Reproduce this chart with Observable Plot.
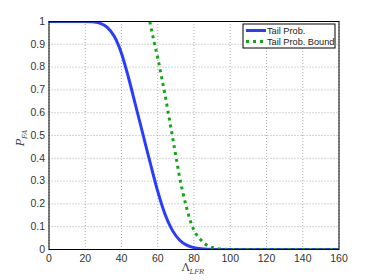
<!DOCTYPE html>
<html><head><meta charset="utf-8">
<script src="https://cdn.jsdelivr.net/npm/d3@7"></script>
<script src="https://cdn.jsdelivr.net/npm/@observablehq/plot@0.6"></script>
<style>
body{margin:0;background:#fff;}
#chart{position:relative;width:374px;height:280px;}
</style></head>
<body><div id="chart"></div>
<script>
const xTicks = [0,20,40,60,80,100,120,140,160];
const yTicks = [0,0.1,0.2,0.3,0.4,0.5,0.6,0.7,0.8,0.9,1];
const tailX = [0,20,24,28,32,36,40,44,48,52,56,60,64,68,72,76,80,84,88,92,100,160];
const tailY = [1,1,0.999,0.993,0.975,0.935,0.86,0.75,0.625,0.5,0.375,0.255,0.155,0.085,0.042,0.019,0.008,0.003,0.001,0,0,0];
const boundX = [55.6,58,60,62,64,66,68,70,72,74,76,78,80,84,88,92,96,100,160];
const boundY = [1,0.91,0.84,0.76,0.68,0.59,0.5,0.41,0.32,0.245,0.18,0.125,0.085,0.04,0.015,0.005,0.001,0,0];
const seriesNames = ["Tail Prob.","Tail Prob. Bound"];
const colors = ["#2a3cff","#13a813"];

const tail = tailX.map((x,i)=>({x, y: tailY[i]}));
const bound = boundX.map((x,i)=>({x, y: boundY[i]}));

const fmt = d => String(+d.toFixed(1));
const plot = Plot.plot({
  width: 374, height: 280,
  marginLeft: 48.5, marginRight: 35.5, marginTop: 21, marginBottom: 31,
  style: {fontFamily: "Liberation Sans, Arial, sans-serif", fontSize: "10.5px", color: "#333", background: "#fff"},
  x: {domain: [0,160]},
  y: {domain: [0,1]},
  marks: [
    Plot.gridX(xTicks, {stroke: "#999", strokeOpacity: 0.8, strokeDasharray: "1,2"}),
    Plot.gridY(yTicks, {stroke: "#999", strokeOpacity: 0.8, strokeDasharray: "1,2"}),
    Plot.line(tail, {x: "x", y: "y", stroke: colors[0], strokeWidth: 3, curve: "monotone-x", clip: true}),
    Plot.line(bound, {x: "x", y: "y", stroke: colors[1], strokeWidth: 3, strokeDasharray: "3,4", strokeLinecap: "butt", curve: "monotone-x", clip: true}),
    Plot.frame({stroke: "#000", strokeWidth: 1}),
    Plot.axisX(xTicks, {tickSize: 0, tickPadding: 5, label: null, tickFormat: fmt}),
    Plot.axisY(yTicks, {tickSize: 0, tickPadding: 4, label: null, tickFormat: fmt})
  ]
});
document.getElementById("chart").appendChild(plot);

const svg = d3.select(plot);
// axis labels
const yl = svg.append("text")
  .attr("transform", "translate(24,138) rotate(-90)")
  .attr("text-anchor", "middle")
  .style("font-family", "DejaVu Serif, Liberation Serif, serif")
  .style("font-size", "11px").style("fill", "#444");
yl.append("tspan").style("font-style", "italic").text("P");
yl.append("tspan").attr("dy", 3).style("font-style", "italic").style("font-size", "7px").text("FA");

const xl = svg.append("text")
  .attr("x", 193).attr("y", 271)
  .attr("text-anchor", "middle")
  .style("font-family", "DejaVu Serif, Liberation Serif, serif")
  .style("font-size", "11px").style("fill", "#444");
xl.append("tspan").text("Λ");
xl.append("tspan").attr("dy", 3).style("font-style", "italic").style("font-size", "7px").text("LFR");

// legend
const lg = svg.append("g");
lg.append("rect").attr("x", 243).attr("y", 24).attr("width", 92).attr("height", 24)
  .attr("fill", "#fff").attr("stroke", "#000").attr("stroke-width", 1);
seriesNames.forEach((name, i) => {
  const yy = 30.5 + i * 11;
  lg.append("line").attr("x1", 246).attr("x2", 266).attr("y1", yy).attr("y2", yy)
    .attr("stroke", colors[i]).attr("stroke-width", 3)
    .attr("stroke-dasharray", i === 1 ? "3,4" : null);
  lg.append("text").attr("x", 267).attr("y", yy + 3.3)
    .attr("text-anchor", "start")
    .style("font-family", "Liberation Sans, Arial, sans-serif").style("font-size", "9.2px").style("fill", "#222")
    .text(name);
});
</script></body></html>
